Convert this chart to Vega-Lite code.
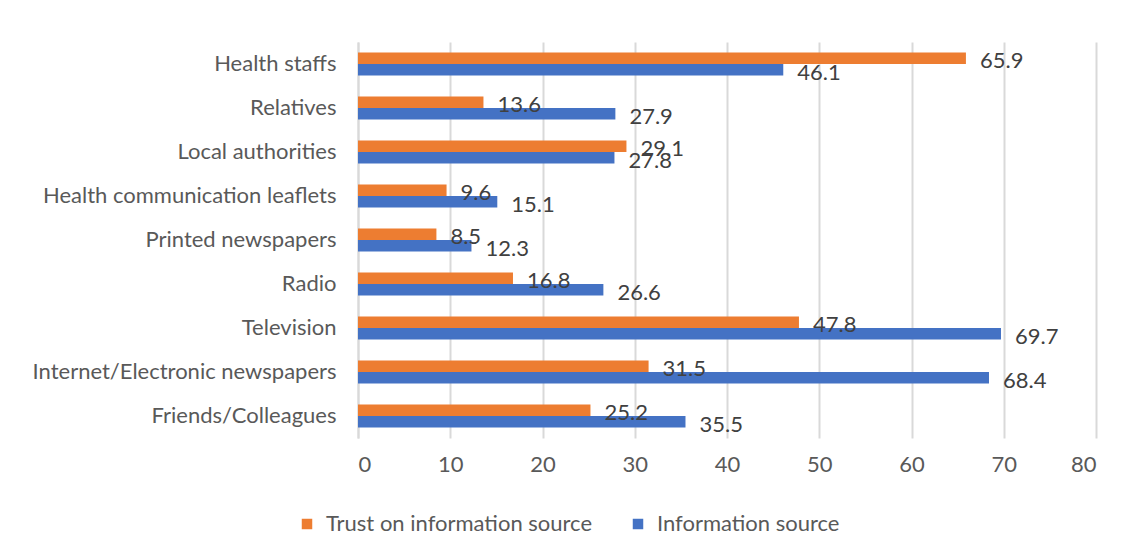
{
  "$schema": "https://vega.github.io/schema/vega-lite/v6.json",
  "autosize": "none",
  "padding": {"left": 358, "top": 42, "right": 30, "bottom": 118},
  "width": 738,
  "height": 396,
  "background": "white",
  "data": {
    "values": [
      {"cat": "Health staffs", "series": "Trust on information source", "value": 65.9},
      {"cat": "Health staffs", "series": "Information source", "value": 46.1},
      {"cat": "Relatives", "series": "Trust on information source", "value": 13.6},
      {"cat": "Relatives", "series": "Information source", "value": 27.9},
      {"cat": "Local authorities", "series": "Trust on information source", "value": 29.1},
      {"cat": "Local authorities", "series": "Information source", "value": 27.8},
      {"cat": "Health communication leaflets", "series": "Trust on information source", "value": 9.6},
      {"cat": "Health communication leaflets", "series": "Information source", "value": 15.1},
      {"cat": "Printed newspapers", "series": "Trust on information source", "value": 8.5},
      {"cat": "Printed newspapers", "series": "Information source", "value": 12.3},
      {"cat": "Radio", "series": "Trust on information source", "value": 16.8},
      {"cat": "Radio", "series": "Information source", "value": 26.6},
      {"cat": "Television", "series": "Trust on information source", "value": 47.8},
      {"cat": "Television", "series": "Information source", "value": 69.7},
      {"cat": "Internet/Electronic newspapers", "series": "Trust on information source", "value": 31.5},
      {"cat": "Internet/Electronic newspapers", "series": "Information source", "value": 68.4},
      {"cat": "Friends/Colleagues", "series": "Trust on information source", "value": 25.2},
      {"cat": "Friends/Colleagues", "series": "Information source", "value": 35.5}
    ]
  },
  "encoding": {
    "y": {
      "field": "cat",
      "type": "nominal",
      "sort": null,
      "title": null,
      "scale": {"paddingInner": 0.48, "paddingOuter": 0.24},
      "axis": {
        "ticks": false,
        "labelPadding": 22,
        "labelFont": "Lato",
        "labelFontSize": 22,
        "labelColor": "#595959",
        "domainColor": "#d9d9d9",
        "domainWidth": 2,
        "grid": false,
        "labelLimit": 400
      }
    },
    "x": {
      "field": "value",
      "type": "quantitative",
      "title": null,
      "scale": {"domain": [0, 80], "nice": false},
      "axis": {
        "values": [0, 10, 20, 30, 40, 50, 60, 70, 80],
        "ticks": false,
        "domain": false,
        "grid": true,
        "gridColor": "#d9d9d9",
        "gridWidth": 2,
        "labelPadding": 16,
        "labelFont": "Lato",
        "labelFontSize": 22,
        "labelColor": "#595959"
      }
    },
    "yOffset": {
      "field": "series",
      "type": "nominal",
      "sort": ["Trust on information source", "Information source"],
      "scale": {"paddingInner": 0, "paddingOuter": 0}
    }
  },
  "layer": [
    {
      "mark": {"type": "bar"},
      "encoding": {
        "color": {
          "field": "series",
          "type": "nominal",
          "sort": ["Trust on information source", "Information source"],
          "scale": {"domain": ["Trust on information source", "Information source"], "range": ["#ED7D31", "#4472C4"]},
          "legend": {
            "title": null,
            "orient": "none",
            "direction": "horizontal",
            "legendX": -62,
            "legendY": 471,
            "symbolType": "square",
            "symbolSize": 110,
            "symbolStrokeWidth": 0,
            "symbolOpacity": 1,
            "labelFont": "Lato",
            "labelFontSize": 22,
            "labelColor": "#595959",
            "columnPadding": 34,
            "labelOffset": 8,
            "labelLimit": 400
          }
        }
      }
    },
    {
      "mark": {"type": "text", "align": "left", "baseline": "middle", "dx": 14, "dy": 3, "font": "Lato", "fontSize": 22, "color": "#404040"},
      "encoding": {
        "text": {"field": "value", "type": "quantitative", "format": ".1f"}
      }
    }
  ],
  "config": {"view": {"stroke": null}}
}
